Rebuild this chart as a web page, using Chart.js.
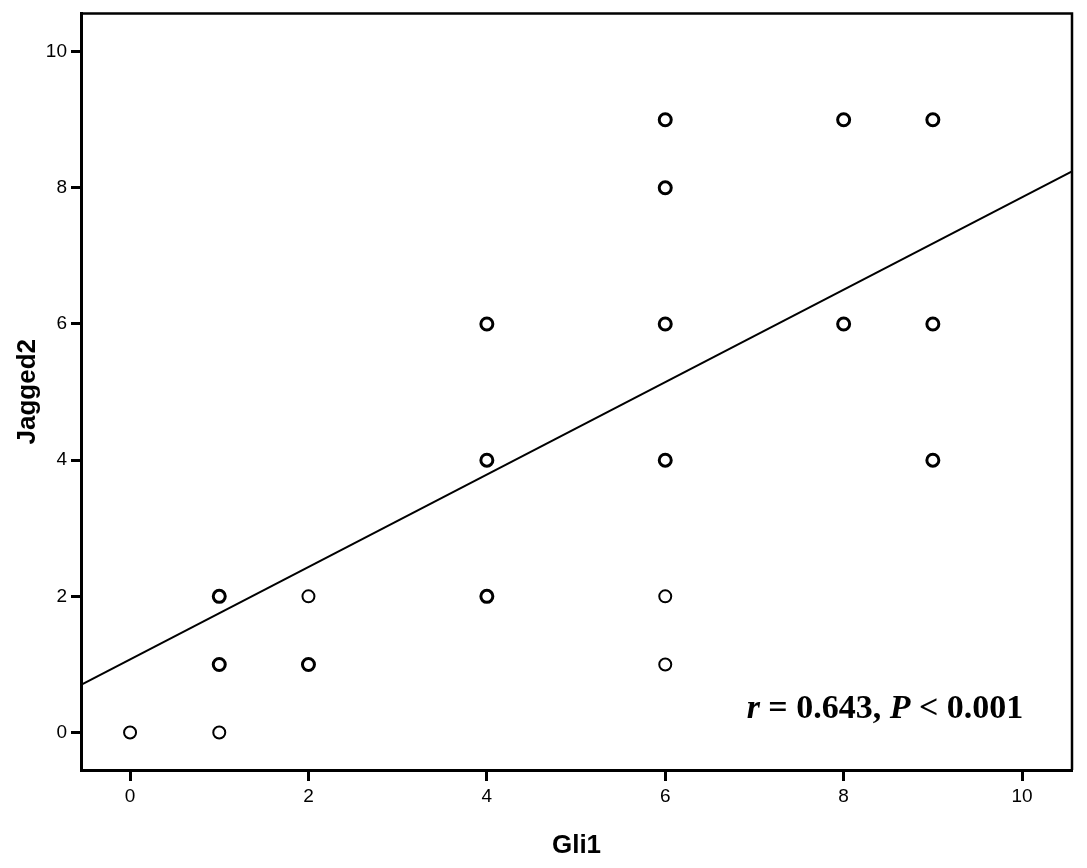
<!DOCTYPE html>
<html>
<head>
<meta charset="utf-8">
<script src="https://cdn.jsdelivr.net/npm/chart.js@4/dist/chart.umd.min.js"></script>
<style>
html,body{margin:0;padding:0;background:#fff;}
#wrap{width:1087px;height:868px;}
</style>
</head>
<body>
<div id="wrap"><canvas id="c" width="1087" height="868"></canvas></div>
<script>
// Data
const singleX = [0, 1, 2, 6, 6];
const singleY = [0, 0, 2, 2, 1];
const multiX = [1, 1, 2, 4, 4, 4, 6, 6, 6, 6, 8, 8, 9, 9, 9];
const multiY = [1, 2, 1, 2, 4, 6, 4, 6, 8, 9, 6, 9, 4, 6, 9];
const fitX = [-0.55, 10.56];
const fitY = [0.70, 8.24];
const xTicks = [0, 2, 4, 6, 8, 10];
const yTicks = [0, 2, 4, 6, 8, 10];
const xTitle = 'Gli1';
const yTitle = 'Jagged2';
const statText = [
  {t: 'r', italic: true},
  {t: ' = 0.643, ', italic: false},
  {t: 'P', italic: true},
  {t: ' < 0.001', italic: false}
];

const toPts = (xs, ys) => xs.map((x, i) => ({x: x, y: ys[i]}));

const framePlugin = {
  id: 'frame',
  afterDraw(chart) {
    const {ctx, chartArea: a} = chart;
    ctx.save();
    ctx.strokeStyle = '#000';
    ctx.lineWidth = 2.5;
    ctx.beginPath();
    ctx.moveTo(a.left, a.top);
    ctx.lineTo(a.right, a.top);
    ctx.lineTo(a.right, a.bottom);
    ctx.stroke();
    // statistics annotation
    const fs = 34;
    let total = 0;
    const parts = statText.map(p => {
      ctx.font = (p.italic ? 'italic ' : '') + 'bold ' + fs + 'px "Liberation Serif", "Times New Roman", serif';
      const w = ctx.measureText(p.t).width;
      total += w;
      return {p, w, font: ctx.font};
    });
    let x = 885 - total / 2;
    const y = 718;
    ctx.fillStyle = '#000';
    ctx.textBaseline = 'alphabetic';
    ctx.textAlign = 'left';
    parts.forEach(o => {
      ctx.font = o.font;
      ctx.fillText(o.p.t, x, y);
      x += o.w;
    });
    ctx.restore();
  }
};

const tickFontX = {family: '"Liberation Sans", Arial, sans-serif', size: 19};
const tickFontY = {family: '"Liberation Sans", Arial, sans-serif', size: 19, lineHeight: 1};
const titleFont = {family: '"Liberation Sans", Arial, sans-serif', size: 26, weight: 'bold'};

new Chart(document.getElementById('c'), {
  type: 'scatter',
  data: {
    datasets: [
      {
        label: 'fit',
        type: 'line',
        data: toPts(fitX, fitY),
        borderColor: '#000',
        borderWidth: 2,
        pointRadius: 0,
        fill: false,
        order: 3
      },
      {
        label: 'single',
        data: toPts(singleX, singleY),
        pointStyle: 'circle',
        pointRadius: 6,
        backgroundColor: '#fff',
        borderColor: '#000',
        pointBorderWidth: 2,
        order: 1
      },
      {
        label: 'multiple',
        data: toPts(multiX, multiY),
        pointStyle: 'circle',
        pointRadius: 6,
        backgroundColor: '#fff',
        borderColor: '#000',
        pointBorderWidth: 3,
        order: 1
      }
    ]
  },
  options: {
    responsive: false,
    animation: false,
    layout: {padding: {top: 12, right: 15, left: 0, bottom: 0}},
    plugins: {legend: {display: false}, tooltip: {enabled: false}},
    scales: {
      x: {
        type: 'linear',
        min: -0.55,
        max: 10.56,
        afterBuildTicks: s => { s.ticks = xTicks.map(v => ({value: v})); },
        afterFit: s => { s.height = 98; },
        grid: {display: true, drawOnChartArea: false, drawTicks: true, tickLength: 11, tickWidth: 3, tickColor: '#000'},
        border: {display: true, color: '#000', width: 3},
        ticks: {color: '#000', font: tickFontX, padding: 4, maxRotation: 0},
        title: {display: true, text: xTitle, color: '#000', font: titleFont, padding: {top: 4, bottom: 7}}
      },
      y: {
        type: 'linear',
        min: -0.55,
        max: 10.56,
        afterBuildTicks: s => { s.ticks = yTicks.map(v => ({value: v})); },
        afterFit: s => { s.width = 81; },
        grid: {display: true, drawOnChartArea: false, drawTicks: true, tickLength: 10, tickWidth: 3, tickColor: '#000'},
        border: {display: true, color: '#000', width: 3},
        ticks: {color: '#000', font: tickFontY, padding: 4},
        title: {display: true, text: yTitle, color: '#000', font: titleFont, padding: {top: 12, bottom: 4}}
      }
    }
  },
  plugins: [framePlugin]
});
</script>
</body>
</html>
